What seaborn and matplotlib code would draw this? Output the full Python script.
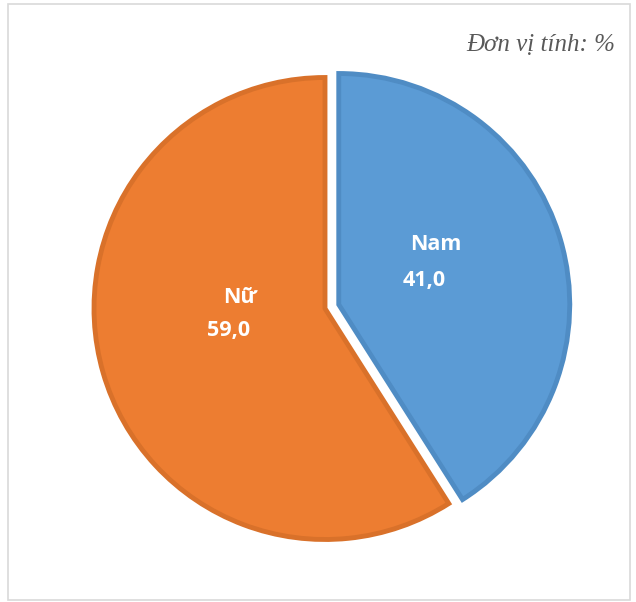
import matplotlib
matplotlib.use("Agg")
import matplotlib.pyplot as plt
import seaborn as sns
from matplotlib.patches import Rectangle

categories = ["Nam", "Nữ"]
values = [41.0, 59.0]
value_labels = ["41,0", "59,0"]
unit_text = "Đơn vị tính: %"

sns.set_theme(style="white")
plt.rcParams['font.family'] = ['Open Sans', 'DejaVu Sans']

fill_colors = ["#5B9BD5", "#ED7D31"]
edge_colors = ["#4F8CC4", "#D9712A"]

W, H = 636, 602
fig = plt.figure(figsize=(W / 100, H / 100), dpi=100)

cx, cy, r = 325, 308.5, 231
half = 1.2 * r
ax = fig.add_axes([(cx - half) / W, (H - cy - half) / H, 2 * half / W, 2 * half / H])

wedges, _ = ax.pie(values, startangle=90, counterclock=False,
                   colors=fill_colors, explode=[0.062, 0.0],
                   wedgeprops=dict(linewidth=0))
for w, ec in zip(wedges, edge_colors):
    w.set_edgecolor(ec)
    w.set_linewidth(3.5)
    w.set_joinstyle("miter")

ax.set_xlim(-1.2, 1.2)
ax.set_ylim(-1.2, 1.2)
ax.set_aspect("equal")
ax.axis("off")

def px2d(x, y):
    return (x - cx) / r, (cy - y) / r

label_pos = {"Nam": (px2d(436, 245), px2d(424, 281)),
             "Nữ": (px2d(240, 298), px2d(229, 331))}
for cat, vl in zip(categories, value_labels):
    (nx, ny), (vx, vy) = label_pos[cat]
    ax.text(nx, ny, cat, color="white", fontsize=15.5, fontweight="bold",
            ha="center", va="center")
    ax.text(vx, vy, vl, color="white", fontsize=15.5, fontweight="bold",
            ha="center", va="center")

fig.text(615 / W, 1 - 45 / H, unit_text, ha="right", va="center",
         fontsize=18, fontstyle="italic", color="#595959",
         family=["Liberation Serif", "DejaVu Serif"])

fig.patches.append(Rectangle((8 / W, 2 / H), (630 - 8) / W, (598 - 2) / H,
                             transform=fig.transFigure, fill=False,
                             edgecolor="#D9D9D9", linewidth=1.2))

fig.savefig("out.png", dpi=100, facecolor="white")
